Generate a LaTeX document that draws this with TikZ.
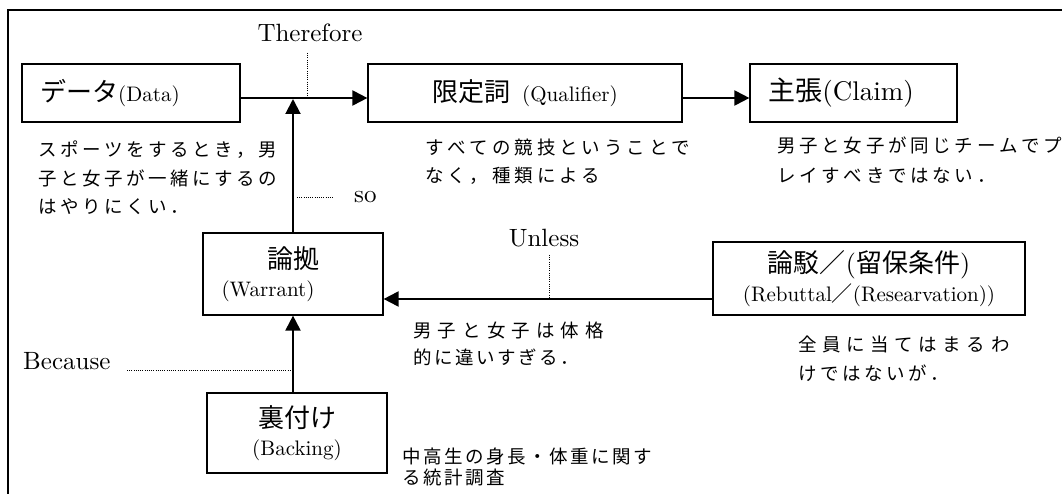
\documentclass[tikz,border=0pt]{standalone}
\usepackage{fontspec}
\setmainfont{lmroman10-regular.otf}
\newfontfamily\cjk{Noto Sans CJK JP}
\usetikzlibrary{arrows.meta,calc}
\newcommand\myfs[1]{\fontsize{#1}{#1}\selectfont}
\newcommand\myfss[2]{\fontsize{#1}{#2}\selectfont}
\ExplSyntaxOn
\NewDocumentCommand\pitch{m m}{\tl_map_inline:nn {#2} {\makebox[#1][l]{##1}}}
\ExplSyntaxOff
\begin{document}
\begin{tikzpicture}[x=1pt,y=-1pt,
  box/.style={draw,line width=1.2pt,inner sep=0pt},
  conn/.style={line width=2pt,-{Triangle[length=15pt,width=15pt]}},
  dotl/.style={line width=0.9pt,dash pattern=on 1pt off 1.2pt},
  lbl/.style={inner sep=0pt,font=\myfs{25}},
  desc/.style={inner sep=0pt,anchor=base west,text width=340pt,align=left}]
\useasboundingbox (0,0) rectangle (1062,494);
\draw[line width=1.2pt] (8,494) -- (8,10) -- (1062,10);
% boxes
\node[box,minimum width=218pt,minimum height=58pt] (data) at (131,93)
  {{\cjk\myfs{26}データ}{\myfs{21}(Data)}\kern42pt};
\node[box,minimum width=314pt,minimum height=58pt] (qual) at (525,93)
  {{\cjk\myfs{26}限定詞}\kern12pt{\myfs{21}(Qualifier)}};
\node[box,minimum width=207pt,minimum height=58pt] (claim) at (853.5,93)
  {{\cjk\myfs{27}主張}{\myfs{27}(Claim)}\kern25pt};
\node[box,minimum width=180pt,minimum height=82pt,align=center] (warrant) at (293,274)
  {{\cjk\myfs{26}論拠}\\[9pt]{\myfs{21}(Warrant)}\kern50pt};
\node[box,minimum width=312pt,minimum height=73pt,align=center] (rebut) at (869,278.5)
  {{\cjk\myfs{26}論駁／}{\myfs{26}(}{\cjk\myfs{26}留保条件}{\myfs{26})}\\[3pt]{\myfs{21}(Rebuttal{\cjk ／}(Researvation))}};
\node[box,minimum width=180pt,minimum height=80pt,align=center] (backing) at (297,433)
  {{\cjk\myfs{26}裏付け}\\[9pt]{\myfs{21}(Backing)}};
% connectors
\coordinate (j) at (293,98);
\draw[conn] ($(data.east)+(0,5)$) -- ($(qual.west)+(0,5)$);
\draw[conn] ($(qual.east)+(0,5)$) -- ($(claim.west)+(0,5)$);
\draw[conn,shorten >=1pt] (warrant.north) -- (j);
\draw[conn] (warrant.south |- backing.north) -- (warrant.south);
\coordinate (ru) at (549,299);
\draw[conn] (rebut.west |- ru) -- (warrant.east |- ru);
% labels with dotted leaders
\node[lbl] (there) at (310,33) {Therefore};
\coordinate (tt) at (307,53); \coordinate (tb) at (307,98);
\draw[dotl] (tt) -- (tb);
\node[lbl,anchor=west] (so) at (354,197) {so};
\coordinate (s1) at (297,197); \coordinate (s2) at (333,197);
\draw[dotl] (s1) -- (s2);
\node[lbl] (unless) at (544,238) {Unless};
\coordinate (ut) at (549,255);
\draw[dotl] (ut) -- (ru);
\node[lbl,anchor=west] (because) at (23,361) {Because};
\coordinate (b1) at (127,370); \coordinate (b2) at (293,370);
\draw[dotl] (b1) -- (b2);
% descriptions
\node[desc,font=\cjk\myfss{18.5}{28.5}] (dd) at (38,157)
  {\pitch{22pt}{スポーツをするとき，男}\\\pitch{22pt}{子と女子が一緒にするの}\\\pitch{22pt}{はやりにくい．}};
\node[desc,font=\cjk\myfss{18.5}{28}] (qd) at (425,155)
  {\pitch{22.4pt}{すべての競技ということで}\\\pitch{22.4pt}{なく，種類による}};
\node[desc,font=\cjk\myfss{18.5}{30}] (cd) at (777,153)
  {\pitch{22.2pt}{男子と女子が同じチームでプ}\\\pitch{22.2pt}{レイすべきではない．}};
\node[desc,font=\cjk\myfss{18.5}{27}] (wd) at (413,337)
  {\pitch{24.6pt}{男子と女子は体格}\\\pitch{21pt}{的に違いすぎる．}};
\node[desc,font=\cjk\myfss{18.5}{29}] (rd) at (798,351)
  {\pitch{24.1pt}{全員に当てはまるわ}\\\pitch{22pt}{けではないが．}};
\node[desc,font=\cjk\myfss{18.5}{21}] (bd) at (402,463)
  {\pitch{21pt}{中高生の身長・体重に関す}\\\pitch{21pt}{る統計調査}};
\end{tikzpicture}
\end{document}
